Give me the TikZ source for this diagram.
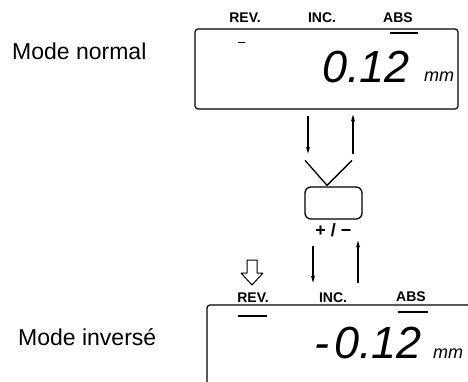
\documentclass[tikz,border=0pt]{standalone}
\usepackage{fontspec}
\setmainfont{Liberation Sans}
\usetikzlibrary{arrows.meta,positioning,calc}

\begin{document}
\begin{tikzpicture}[x=1pt, y=-1pt,
    lcd/.style={draw=black, line width=1.2pt, rounded corners=3pt, inner sep=0pt},
    signkey/.style={draw=black, line width=1.3pt, rounded corners=6pt, minimum width=57pt, minimum height=32pt},
    tag/.style={font=\bfseries\fontsize{14}{14}\selectfont, anchor=base, inner sep=0pt},
    digits/.style={font=\itshape\fontsize{45}{45}\selectfont, anchor=base east, inner sep=0pt},
    unit/.style={font=\itshape\fontsize{18}{18}\selectfont, anchor=base west, inner sep=0pt},
    mode/.style={font=\fontsize{23}{23}\selectfont, anchor=base west, inner sep=0pt},
    wire/.style={line width=1.3pt},
    seg/.style={line width=1.6pt}
]
    \useasboundingbox (0,0) rectangle (468,382);

    % Normal mode display
    \node[mode] (normal) at (12,60) {Mode normal};
    \node[lcd, minimum width=263pt, minimum height=80pt] (topdisp) at (326.5,69) {};
    \node[tag] (rev1) at (245,23) {REV.};
    \node[tag] (inc1) at (322,23) {INC.};
    \node[tag] (abs1) at (398,23) {ABS};
    \node[digits] (val1) at (410,83) {0.12};
    \node[unit] (mm1) at (424,82) {mm};
    \draw[seg] (390,33) -- (418,33);
    \draw[line width=0.6pt] (238,42) -- (245,42);

    % Sign key
    \node[signkey] (sign) at (333.5,203) {};
    \node[font=\bfseries\fontsize{18}{18}\selectfont, below=0pt of sign] (pm) {+ / −};
    \coordinate (vtip) at ($(sign.north)+(-6.5,-1)$);
    \draw[wire] ($(vtip)+(-22,-25)$) -- (vtip) -- ($(vtip)+(25,-25)$);

    % Arrows between display and key
    \draw[wire, -{Stealth[length=7pt,width=4pt]}] ($(topdisp.south)+(-18.5,6)$) -- ($(topdisp.south)+(-18.5,44)$);
    \draw[wire, -{Stealth[length=7pt,width=4pt]}] ($(topdisp.south)+(26.5,44)$) -- ($(topdisp.south)+(26.5,5)$);
    \draw[wire, -{Stealth[length=7pt,width=4pt]}] ($(sign.south)+(-20.5,26)$) -- ($(sign.south)+(-20.5,63)$);
    \draw[wire, -{Stealth[length=7pt,width=4pt]}] ($(sign.south)+(24.5,63)$) -- ($(sign.south)+(24.5,21)$);

    % Hollow arrow onto REV.
    \draw[line width=1pt, line join=round] (247,260) -- (257,260) -- (257,273) -- (263,273)
        -- (252,285) -- (241,273) -- (247,273) -- cycle;

    % Inverse mode display
    \node[mode] (inverse) at (18,345) {Mode inversé};
    \coordinate (botcorner) at (207,305);
    \draw[lcd] (468,305) -- (botcorner) -- (207,382);
    \node[tag] (rev2) at (253,302) {REV.};
    \node[tag] (inc2) at (333,302) {INC.};
    \node[tag] (abs2) at (411,301) {ABS};
    \node[digits] (val2) at (422,358) {-\hspace{5pt}0.12};
    \node[unit] (mm2) at (433,358) {mm};
    \draw[seg] (398,312) -- (428,312);
    \draw[seg] (238,316) -- (267,316);

\end{tikzpicture}
\end{document}
